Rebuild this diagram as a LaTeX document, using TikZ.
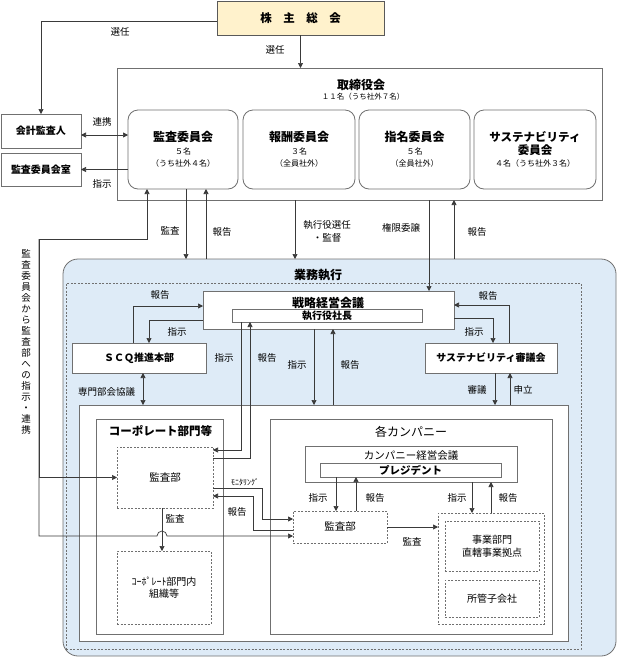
\documentclass[tikz,border=0pt]{standalone}
\usepackage{fontspec}
\setmainfont{Noto Sans CJK JP}
\usetikzlibrary{arrows.meta}
\definecolor{kabucol}{HTML}{FFF2CC}
\definecolor{gyomucol}{HTML}{DEEBF7}
\definecolor{edgecol}{HTML}{707070}
\definecolor{linecol}{HTML}{3A3A3A}

\begin{document}
\begin{tikzpicture}[x=1pt, y=-1pt,
  every node/.style={inner sep=0pt, outer sep=0pt, align=center},
  box/.style={draw=edgecol, fill=white, line width=0.8pt},
  rbox/.style={box, rounded corners=10pt},
  dbox/.style={draw=edgecol, fill=white, line width=0.7pt, dash pattern=on 2pt off 1.5pt},
  cmte/.style={rbox, minimum height=79pt, font=\fontsize{8}{12}\selectfont},
  lab/.style={font=\fontsize{9.5}{13}\selectfont},
  arr/.style={draw=linecol, line width=0.7pt, -{Triangle[length=5pt,width=5pt]}},
  darr/.style={arr, {Triangle[length=5pt,width=5pt]}-{Triangle[length=5pt,width=5pt]}}]

\useasboundingbox (0,0) rectangle (617,657);

\node[draw=black!65, fill=kabucol, line width=0.8pt, minimum width=167pt, minimum height=34pt, font=\fontsize{11.5}{13}\selectfont\bfseries] (kabu) at (300.5,18) {株　主　総　会};

\node[box, minimum width=485pt, minimum height=132pt] (tori) at (359.5,134) {};
\node[font=\fontsize{12}{14}\selectfont\bfseries] (torit) at (361,85) {取締役会};
\node[font=\fontsize{7.5}{9}\selectfont] (torin) at (363,97) {１１名（うち社外７名）};
\node[cmte, minimum width=110pt] (kansa) at (183,149.5) {{\fontsize{12}{14}\selectfont\bfseries 監査委員会}\\[1pt]５名\\（うち社外４名）};
\node[cmte, minimum width=112pt] (hoshu) at (299,149.5) {{\fontsize{12}{14}\selectfont\bfseries 報酬委員会}\\[1pt]３名\\（全員社外）};
\node[cmte, minimum width=111pt] (shimei) at (414.5,149.5) {{\fontsize{12}{14}\selectfont\bfseries 指名委員会}\\[1pt]５名\\（全員社外）};
\node[cmte, minimum width=122pt] (sustc) at (535,149.5) {{\fontsize{11.5}{13}\selectfont\bfseries サステナビリティ}\\[1pt]{\fontsize{11.5}{13}\selectfont\bfseries 委員会}\\４名（うち社外３名）};

\node[box, minimum width=80pt, minimum height=34pt, font=\fontsize{10}{12}\selectfont\bfseries] (kaikei) at (41,131) {会計監査人};
\node[box, minimum width=80pt, minimum height=33pt, font=\fontsize{10}{12}\selectfont\bfseries] (kshitsu) at (41,169.5) {監査委員会室};

\node[rbox, fill=gyomucol, rounded corners=15pt, minimum width=553pt, minimum height=397pt] (gyomu) at (339.5,457.5) {};
\node[font=\fontsize{12}{14}\selectfont\bfseries] (gyomut) at (318,275) {業務執行};
\node[draw=edgecol, line width=0.7pt, dash pattern=on 2pt off 1.5pt, minimum width=515pt, minimum height=366pt] (exec) at (323.5,466) {};

\node[box, minimum width=251pt, minimum height=38pt] (senr) at (328.5,310) {};
\node[font=\fontsize{12}{14}\selectfont\bfseries] (senrt) at (328,302.5) {戦略経営会議};
\node[box, minimum width=190pt, minimum height=13pt, font=\fontsize{10}{12}\selectfont\bfseries] (shacho) at (327,315.5) {執行役社長};
\node[box, minimum width=134pt, minimum height=30pt, font=\fontsize{10}{12}\selectfont\bfseries] (scq) at (139,358) {ＳＣＱ推進本部};
\node[box, minimum width=132pt, minimum height=30pt, font=\fontsize{10}{12}\selectfont\bfseries] (sshin) at (491,358) {サステナビリティ審議会};

\node[box, minimum width=489pt, minimum height=236pt] (base) at (323.5,523) {};
\node[box, minimum width=127pt, minimum height=215pt] (corp) at (159.5,526.5) {};
\node[font=\fontsize{11.5}{13}\selectfont\bfseries] (corpt) at (160.5,431.5) {コーポレート部門等};
\node[dbox, minimum width=96pt, minimum height=61pt, font=\fontsize{10.5}{12}\selectfont] (audc) at (165,477.5) {監査部};
\node[dbox, minimum width=94pt, minimum height=73pt, font=\fontsize{10}{12}\selectfont] (corporg) at (164,587.5) {ｺｰﾎﾟﾚｰﾄ部門内\\組織等};

\node[box, minimum width=282pt, minimum height=215pt] (comp) at (411,526.5) {};
\node[font=\fontsize{12}{14}\selectfont] (compt) at (411,432) {各カンパニー};
\node[box, minimum width=212pt, minimum height=36pt] (cmeet) at (411,464) {};
\node[font=\fontsize{10.5}{12}\selectfont] (cmeett) at (411,455.5) {カンパニー経営会議};
\node[box, minimum width=181pt, minimum height=14pt, font=\fontsize{10.5}{12}\selectfont\bfseries] (pres) at (410.5,470) {プレジデント};
\node[dbox, minimum width=94pt, minimum height=32pt, font=\fontsize{10.5}{12}\selectfont] (audk) at (340,527) {監査部};
\node[dbox, minimum width=106pt, minimum height=111pt] (units) at (491,568.5) {};
\node[dbox, minimum width=94pt, minimum height=50pt, font=\fontsize{10}{12.5}\selectfont] (jigyo) at (492,546) {事業部門\\直轄事業拠点};
\node[dbox, minimum width=94pt, minimum height=37pt, font=\fontsize{10}{12}\selectfont] (subs) at (492,598.5) {所管子会社};

\node[font=\fontsize{9.5}{11}\selectfont] (vtext) at (26,341.5) {監\\査\\委\\員\\会\\か\\ら\\監\\査\\部\\へ\\の\\指\\示\\・\\連\\携};

\draw[arr] ([yshift=-3pt]kabu.west) -| (kaikei.north);
\draw[arr] (kabu.south) -- (kabu.south |- tori.north);
\draw[darr] ([yshift=-4pt]kaikei.east) -- ([yshift=-4pt]kaikei.east -| kansa.west);
\draw[arr] (kansa.west |- kshitsu.east) -- (kshitsu.east);
\draw[arr] ([xshift=3pt]kansa.south) -- ([xshift=3pt]kansa.south |- gyomu.north);
\draw[arr] ([xshift=23pt]kansa.south |- gyomu.north) -- ([xshift=23pt]kansa.south);
\draw[arr] ([xshift=-64.5pt]tori.south) -- ([xshift=-64.5pt]tori.south |- gyomu.north);
\draw[arr] ([xshift=69.5pt]tori.south) -- ([xshift=69.5pt]tori.south |- senr.north);
\draw[arr] ([xshift=94.5pt]tori.south |- gyomu.north) -- ([xshift=94.5pt]tori.south);

\draw[arr] ([xshift=-6pt]scq.north) |- ([yshift=4pt]senr.west);
\draw[arr] ([yshift=-10pt]senr.west) -| ([xshift=10pt]scq.north);
\draw[darr] ([xshift=4pt]scq.south) -- ([xshift=4pt]scq.south |- base.north);
\draw[arr] ([xshift=18pt]sshin.north) |- ([yshift=5pt]senr.east);
\draw[arr] ([yshift=-8pt]senr.east) -| ([xshift=2pt]sshin.north);
\draw[arr] ([xshift=4pt]sshin.south) -- ([xshift=4pt]sshin.south |- base.north);
\draw[arr] ([xshift=19pt]sshin.south |- base.north) -- ([xshift=19pt]sshin.south);
\draw[arr] ([xshift=-14.5pt]senr.south) -- ([xshift=-14.5pt]senr.south |- base.north);
\draw[arr] ([xshift=4.5pt]senr.south |- base.north) -- ([xshift=4.5pt]senr.south);

\draw[arr] ([xshift=-86pt]shacho.south) |- ([yshift=27.5pt]audc.east);
\draw[arr] ([yshift=19.5pt]audc.east) -| ([xshift=-77pt]shacho.south);
\draw[arr] ([yshift=-10.5pt]audc.east) -- ++(49,0) |- ([yshift=8pt]audk.west);
\draw[arr] ([yshift=-3pt]audk.west) -- ++(-40,0) |- ([yshift=-18.5pt]audc.east);
\draw[arr] ([xshift=-3pt]audc.south) -- ([xshift=-3pt]audc.south |- corporg.north);

\coordinate (lk) at (39,239);
\coordinate (lb) at (39,536);
\draw[arr] (lk) -| ([xshift=-36pt]kansa.south);
\draw[arr] (lk) |- (audc.west);
\draw[arr] (lk) -- (lb) -- ([xshift=-8pt]lb -| audc.south) arc[start angle=180, end angle=0, radius=5pt] -- (lb -| audk.west);

\draw[arr] ([xshift=-74.5pt]pres.south) -- ([xshift=-74.5pt]pres.south |- audk.north);
\draw[arr] ([xshift=16pt]audk.north) -- ([xshift=16pt]audk.north |- pres.south);
\draw[arr] (audk.east) -- (audk.east -| units.west);
\draw[arr] ([xshift=61pt]cmeet.south) -- ([xshift=61pt]cmeet.south |- units.north);
\draw[arr] ([xshift=80pt]cmeet.south |- units.north) -- ([xshift=80pt]cmeet.south);

\node[lab] (lsenA) at (120,32) {選任};
\node[lab] (lsenB) at (275,50) {選任};
\node[lab] (lrenk) at (102,122) {連携};
\node[lab] (lshiA) at (102,184) {指示};
\node[lab] (lkanA) at (170,231) {監査};
\node[lab] (lhouA) at (222,232) {報告};
\node[lab] (lsenC) at (327,231) {執行役選任\\・監督};
\node[lab] (lkeng) at (401,228) {権限委譲};
\node[lab] (lhouB) at (477,232) {報告};
\node[lab] (lhouC) at (160,295) {報告};
\node[lab] (lshiB) at (177,332) {指示};
\node[lab] (lshiC) at (224,358) {指示};
\node[lab] (lhouD) at (267,358) {報告};
\node[lab] (lshiD) at (297,365) {指示};
\node[lab] (lhouE) at (350,365) {報告};
\node[lab] (lsenm) at (106.5,392) {専門部会協議};
\node[lab] (lhouF) at (488,296) {報告};
\node[lab] (lshiE) at (474,332) {指示};
\node[lab] (lshin) at (477,390) {審議};
\node[lab] (lmosh) at (523,390) {申立};
\node[font=\fontsize{8}{10}\selectfont] (lmoni) at (245,482) {ﾓﾆﾀﾘﾝｸﾞ};
\node[lab] (lhouG) at (237,512) {報告};
\node[lab] (lkanB) at (175,519) {監査};
\node[lab] (lshiF) at (318,498) {指示};
\node[lab] (lhouH) at (375,498) {報告};
\node[lab] (lshiG) at (457,498) {指示};
\node[lab] (lhouI) at (508,498) {報告};
\node[lab] (lkanC) at (412,542) {監査};
\end{tikzpicture}
\end{document}
